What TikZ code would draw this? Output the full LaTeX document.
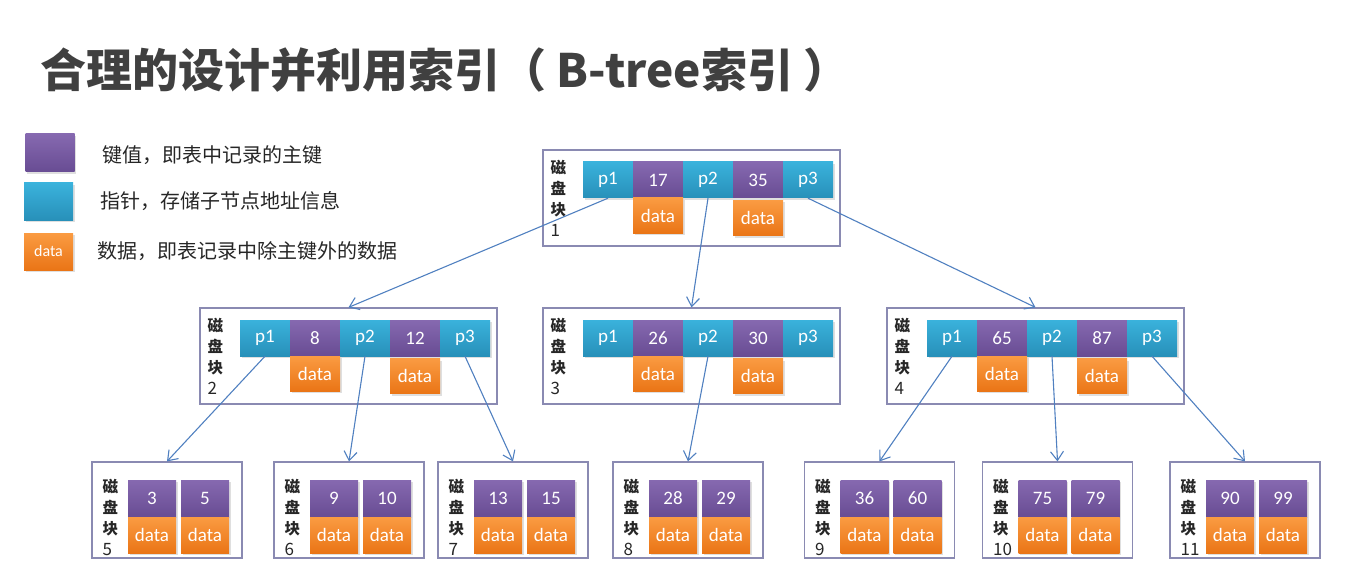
\documentclass[tikz,border=0pt]{standalone}
\usepackage{fontspec}
\setmainfont{Carlito}
\newfontfamily\cjk{Noto Sans CJK SC}
\usetikzlibrary{arrows.meta, positioning, shadows}

\definecolor{ptrtop}{HTML}{3AB2DC}
\definecolor{ptrbot}{HTML}{2890B9}
\definecolor{keytop}{HTML}{8669B0}
\definecolor{keybot}{HTML}{684C93}
\definecolor{dattop}{HTML}{FA9B42}
\definecolor{datbot}{HTML}{EA7516}
\definecolor{framec}{HTML}{8A8AB2}
\definecolor{linkc}{HTML}{5080C0}
\definecolor{titlec}{HTML}{404040}

\newcommand{\blknum}[1]{{\mdseries\fontsize{17}{21}\selectfont #1}}

\begin{document}
\begin{tikzpicture}[x=1pt, y=-1pt, >={Straight Barb[length=9pt,width=13pt]},
  node distance=50pt, on grid,
  cell/.style={inner sep=0pt, text=white, font=\fontsize{19}{19}\selectfont,
    drop shadow={shadow xshift=1.5pt, shadow yshift=-2pt, opacity=.25}},
  ptrbox/.style={cell, top color=ptrtop, bottom color=ptrbot, minimum width=50pt, minimum height=36pt},
  keybox/.style={cell, top color=keytop, bottom color=keybot, minimum width=50pt, minimum height=36pt},
  datbox/.style={cell, top color=dattop, bottom color=datbot, minimum width=50pt, minimum height=35pt},
  lkeybox/.style={keybox, minimum width=48pt, minimum height=37pt},
  ldatbox/.style={datbox, minimum width=48pt, minimum height=36pt},
  blk/.style={draw=framec, line width=1.2pt, minimum width=297pt, minimum height=96pt, inner sep=0pt},
  leaf/.style={blk, minimum width=150pt},
  lbl/.style={inner sep=0pt, anchor=west, align=left, text=black!85, font=\cjk\bfseries\fontsize{15.5}{21}\selectfont},
  txt/.style={inner sep=0pt, anchor=west, text=black!85, font=\cjk\fontsize{20}{20}\selectfont},
  link/.style={->, color=linkc, line width=1.1pt}]
  \useasboundingbox (0,0) rectangle (1354,564);

  % title and legend
  \node[inner sep=0pt, anchor=west, text=titlec, font=\cjk\bfseries\fontsize{46}{46}\selectfont]
    (title) at (40,70) {合理的设计并利用索引（ B-tree索引 ）};
  \node[keybox, minimum width=49pt, minimum height=38pt] (lk) at (50,153) {};
  \node[ptrbox, minimum width=49pt, minimum height=37pt] (lp) at (48.5,201.5) {};
  \node[datbox, minimum width=49pt, minimum height=37pt, font=\fontsize{16}{16}\selectfont] (ld) at (48.5,251.5) {data};
  \node[txt] (lkt) at (102,155) {键值，即表中记录的主键};
  \node[txt] (lpt) at (100,201) {指针，存储子节点地址信息};
  \node[txt] (ldt) at (97,251) {数据，即表记录中除主键外的数据};

  % disk block 1 (root)
  \node[blk] (b1) at (691.5,198) {};
  \node[lbl] (b1l) at ([xshift=8pt]b1.west) {磁\\盘\\块\\\blknum{1}};
  \node[ptrbox] (b1p1) [above left=18pt and 83.5pt of b1] {p1};
  \node[keybox] (b1k1) [right=of b1p1] {17};
  \node[ptrbox] (b1p2) [right=of b1k1] {p2};
  \node[keybox] (b1k2) [right=of b1p2] {35};
  \node[ptrbox] (b1p3) [right=of b1k2] {p3};
  \node[datbox] (b1d1) [below=35.5pt of b1k1] {data};
  \node[datbox] (b1d2) [below=38pt of b1k2] {data};

  % disk blocks 2-4
  \node[blk] (b2) at (348.5,356) {};
  \node[lbl] (b2l) at ([xshift=8pt]b2.west) {磁\\盘\\块\\\blknum{2}};
  \node[ptrbox] (b2p1) [above left=18pt and 83.5pt of b2] {p1};
  \node[keybox] (b2k1) [right=of b2p1] {8};
  \node[ptrbox] (b2p2) [right=of b2k1] {p2};
  \node[keybox] (b2k2) [right=of b2p2] {12};
  \node[ptrbox] (b2p3) [right=of b2k2] {p3};
  \node[datbox] (b2d1) [below=35.5pt of b2k1] {data};
  \node[datbox] (b2d2) [below=38pt of b2k2] {data};

  \node[blk] (b3) at (691.5,356) {};
  \node[lbl] (b3l) at ([xshift=8pt]b3.west) {磁\\盘\\块\\\blknum{3}};
  \node[ptrbox] (b3p1) [above left=18pt and 83.5pt of b3] {p1};
  \node[keybox] (b3k1) [right=of b3p1] {26};
  \node[ptrbox] (b3p2) [right=of b3k1] {p2};
  \node[keybox] (b3k2) [right=of b3p2] {30};
  \node[ptrbox] (b3p3) [right=of b3k2] {p3};
  \node[datbox] (b3d1) [below=35.5pt of b3k1] {data};
  \node[datbox] (b3d2) [below=38pt of b3k2] {data};

  \node[blk] (b4) at (1035.5,356) {};
  \node[lbl] (b4l) at ([xshift=8pt]b4.west) {磁\\盘\\块\\\blknum{4}};
  \node[ptrbox] (b4p1) [above left=18pt and 83.5pt of b4] {p1};
  \node[keybox] (b4k1) [right=of b4p1] {65};
  \node[ptrbox] (b4p2) [right=of b4k1] {p2};
  \node[keybox] (b4k2) [right=of b4p2] {87};
  \node[ptrbox] (b4p3) [right=of b4k2] {p3};
  \node[datbox] (b4d1) [below=35.5pt of b4k1] {data};
  \node[datbox] (b4d2) [below=38pt of b4k2] {data};

  % leaf disk blocks 5-11
  \node[leaf] (b5) at (167,510) {};
  \node[lbl] (b5l) at ([shift={(11pt,-7.5pt)}]b5.west) {磁\\盘\\块\\\blknum{5}};
  \node[lkeybox] (b5k1) [above left=11.5pt and 15pt of b5] {3};
  \node[lkeybox] (b5k2) [right=53pt of b5k1] {5};
  \node[ldatbox] (b5d1) [below=36.5pt of b5k1] {data};
  \node[ldatbox] (b5d2) [below=36.5pt of b5k2] {data};

  \node[leaf] (b6) at (349,510) {};
  \node[lbl] (b6l) at ([shift={(11pt,-7.5pt)}]b6.west) {磁\\盘\\块\\\blknum{6}};
  \node[lkeybox] (b6k1) [above left=11.5pt and 15pt of b6] {9};
  \node[lkeybox] (b6k2) [right=53pt of b6k1] {10};
  \node[ldatbox] (b6d1) [below=36.5pt of b6k1] {data};
  \node[ldatbox] (b6d2) [below=36.5pt of b6k2] {data};

  \node[leaf] (b7) at (513,510) {};
  \node[lbl] (b7l) at ([shift={(11pt,-7.5pt)}]b7.west) {磁\\盘\\块\\\blknum{7}};
  \node[lkeybox] (b7k1) [above left=11.5pt and 15pt of b7] {13};
  \node[lkeybox] (b7k2) [right=53pt of b7k1] {15};
  \node[ldatbox] (b7d1) [below=36.5pt of b7k1] {data};
  \node[ldatbox] (b7d2) [below=36.5pt of b7k2] {data};

  \node[leaf] (b8) at (688,510) {};
  \node[lbl] (b8l) at ([shift={(11pt,-7.5pt)}]b8.west) {磁\\盘\\块\\\blknum{8}};
  \node[lkeybox] (b8k1) [above left=11.5pt and 15pt of b8] {28};
  \node[lkeybox] (b8k2) [right=53pt of b8k1] {29};
  \node[ldatbox] (b8d1) [below=36.5pt of b8k1] {data};
  \node[ldatbox] (b8d2) [below=36.5pt of b8k2] {data};

  \node[leaf] (b9) at (879.5,510) {};
  \node[lbl] (b9l) at ([shift={(11pt,-7.5pt)}]b9.west) {磁\\盘\\块\\\blknum{9}};
  \node[lkeybox] (b9k1) [above left=11.5pt and 15pt of b9] {36};
  \node[lkeybox] (b9k2) [right=53pt of b9k1] {60};
  \node[ldatbox] (b9d1) [below=36.5pt of b9k1] {data};
  \node[ldatbox] (b9d2) [below=36.5pt of b9k2] {data};

  \node[leaf] (b10) at (1057.5,510) {};
  \node[lbl] (b10l) at ([shift={(11pt,-7.5pt)}]b10.west) {磁\\盘\\块\\\blknum{10}};
  \node[lkeybox] (b10k1) [above left=11.5pt and 15pt of b10] {75};
  \node[lkeybox] (b10k2) [right=53pt of b10k1] {79};
  \node[ldatbox] (b10d1) [below=36.5pt of b10k1] {data};
  \node[ldatbox] (b10d2) [below=36.5pt of b10k2] {data};

  \node[leaf] (b11) at (1245,510) {};
  \node[lbl] (b11l) at ([shift={(11pt,-7.5pt)}]b11.west) {磁\\盘\\块\\\blknum{11}};
  \node[lkeybox] (b11k1) [above left=11.5pt and 15pt of b11] {90};
  \node[lkeybox] (b11k2) [right=53pt of b11k1] {99};
  \node[ldatbox] (b11d1) [below=36.5pt of b11k1] {data};
  \node[ldatbox] (b11d2) [below=36.5pt of b11k2] {data};

  \path[link]
  (b1p1.south) edge (b2.north)
  (b1p2.south) edge (b3.north)
  (b1p3.south) edge (b4.north)
  (b2p1.south) edge (b5.north)
  (b2p2.south) edge (b6.north)
  (b2p3.south) edge (b7.north)
  (b3p2.south) edge (b8.north)
  (b4p1.south) edge (b9.north)
  (b4p2.south) edge (b10.north)
  (b4p3.south) edge (b11.north)
  ;
\end{tikzpicture}
\end{document}
